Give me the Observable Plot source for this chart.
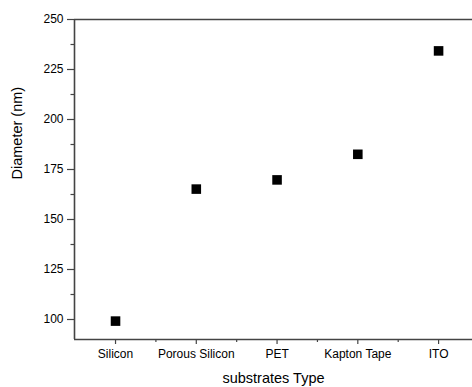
<!DOCTYPE html>
<html>
<head>
<meta charset="utf-8">
<script src="https://cdn.jsdelivr.net/npm/d3@7"></script>
<script src="https://cdn.jsdelivr.net/npm/@observablehq/plot@0.6"></script>
<style>
  html, body { margin: 0; padding: 0; background: #fff; }
  #chart svg { display: block; }
</style>
</head>
<body>
<div id="chart"></div>
<script>
const categories = ["Silicon", "Porous Silicon", "PET", "Kapton Tape", "ITO"];
const diameters = [99.2, 165.2, 169.8, 182.6, 234.3];
const yMajorTicks = [100, 125, 150, 175, 200, 225, 250];
const yMinorTicks = [112.5, 137.5, 162.5, 187.5, 212.5, 237.5];
const xMinorTicks = [0.5, 1.5, 2.5, 3.5];

const data = categories.map((c, i) => ({i, category: c, d: diameters[i]}));
const xDomain = [-0.508, 4.42];
const yDomain = [90, 250];
const axisColor = "#444";

const chart = Plot.plot({
  width: 472,
  height: 387,
  marginTop: 19,
  marginBottom: 48,
  marginLeft: 74,
  marginRight: 0,
  style: {fontFamily: "Arial, 'Liberation Sans', sans-serif", fontSize: "12px", color: "#000"},
  x: {domain: xDomain},
  y: {domain: yDomain},
  marks: [
    Plot.axisY({ticks: yMajorTicks, tickSize: 7, tickPadding: 4, stroke: axisColor, strokeWidth: 1.2,
      fontSize: 12, label: null}),
    Plot.axisY({ticks: yMinorTicks, tickSize: 3.5, stroke: axisColor, strokeWidth: 1.2, text: null, label: null}),
    Plot.axisX({ticks: d3.range(categories.length), tickSize: 5, tickPadding: 5, stroke: axisColor, strokeWidth: 1.2,
      tickFormat: i => categories[i], fontSize: 12, label: null}),
    Plot.axisX({ticks: xMinorTicks, tickSize: 3, stroke: axisColor, strokeWidth: 1.2, text: null, label: null}),
    Plot.ruleX([xDomain[0]], {stroke: axisColor, strokeWidth: 1.6}),
    Plot.ruleY([yDomain[0]], {stroke: axisColor, strokeWidth: 1.6}),
    Plot.ruleY([yDomain[1]], {stroke: axisColor, strokeWidth: 1.6}),
    Plot.dot(data, {x: "i", y: "d", symbol: "square", r: 5.4, fill: "#000", stroke: null}),
    Plot.text(["substrates Type"], {frameAnchor: "bottom", dy: 43, fontSize: 14.5, fill: "#000"}),
    Plot.text(["Diameter (nm)"], {frameAnchor: "left", dx: -57, rotate: -90, fontSize: 14.5, fill: "#000"})
  ]
});
document.getElementById("chart").appendChild(chart);
</script>
</body>
</html>
